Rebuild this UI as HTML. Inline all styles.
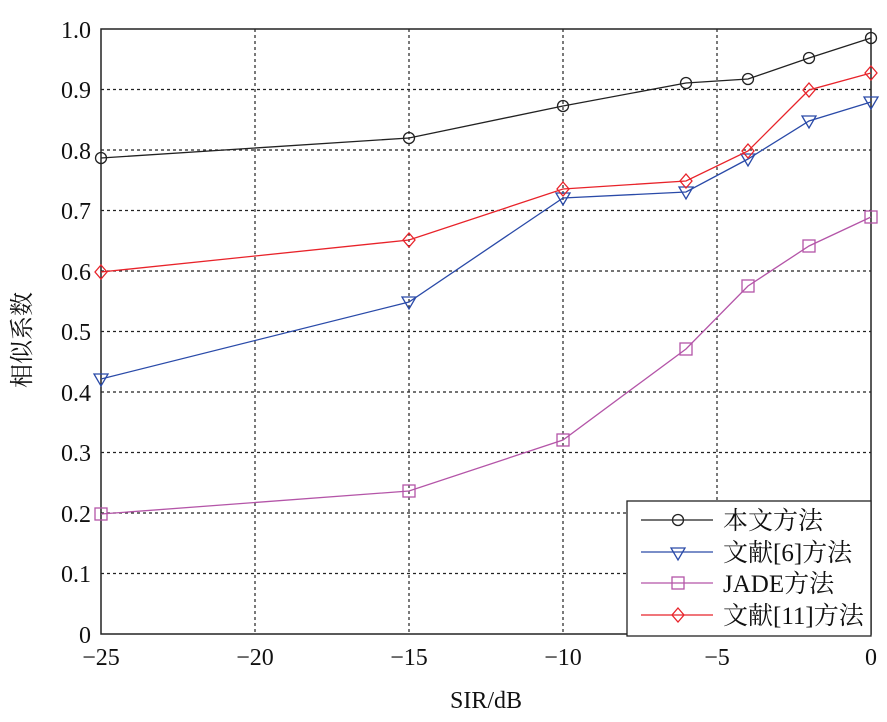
<!DOCTYPE html><html><head><meta charset="utf-8"><style>body{margin:0;background:#fff}</style></head><body>
<svg width="887" height="717" xmlns="http://www.w3.org/2000/svg" font-family="Liberation Serif, 'Noto Serif CJK SC', serif" font-size="24" fill="#111">
<g stroke="#222" stroke-width="1.2" stroke-dasharray="3,3">
<line x1="101" x2="871" y1="89.5" y2="89.5"/><line x1="101" x2="871" y1="150" y2="150"/><line x1="101" x2="871" y1="210.5" y2="210.5"/><line x1="101" x2="871" y1="271" y2="271"/><line x1="101" x2="871" y1="331.5" y2="331.5"/><line x1="101" x2="871" y1="392" y2="392"/><line x1="101" x2="871" y1="452.5" y2="452.5"/><line x1="101" x2="871" y1="513" y2="513"/><line x1="101" x2="871" y1="573.5" y2="573.5"/>
<line x1="255" x2="255" y1="29" y2="634"/><line x1="409" x2="409" y1="29" y2="634"/><line x1="563" x2="563" y1="29" y2="634"/><line x1="717" x2="717" y1="29" y2="634"/>
</g>
<rect x="101" y="29" width="770" height="605" fill="none" stroke="#222" stroke-width="1.5"/>
<g text-anchor="end">
<text x="91" y="38">1.0</text><text x="91" y="98">0.9</text><text x="91" y="159">0.8</text><text x="91" y="219">0.7</text><text x="91" y="280">0.6</text><text x="91" y="340">0.5</text><text x="91" y="401">0.4</text><text x="91" y="461">0.3</text><text x="91" y="522">0.2</text><text x="91" y="582">0.1</text><text x="91" y="643">0</text>
</g>
<g text-anchor="middle">
<text x="101" y="665">−25</text><text x="255" y="665">−20</text><text x="409" y="665">−15</text><text x="563" y="665">−10</text><text x="717" y="665">−5</text><text x="871" y="665">0</text>
<text x="486" y="708">SIR/dB</text>
<text transform="translate(30,340) rotate(-90)">相似系数</text>
</g>
<g fill="none" stroke-width="1.3">
<polyline stroke="#222" points="101,158 409,138 563,106 686,83 748,79 809,58 871,38"/>
<g stroke="#222"><circle cx="101" cy="158" r="5.5"/><circle cx="409" cy="138" r="5.5"/><circle cx="563" cy="106" r="5.5"/><circle cx="686" cy="83" r="5.5"/><circle cx="748" cy="79" r="5.5"/><circle cx="809" cy="58" r="5.5"/><circle cx="871" cy="38" r="5.5"/></g>
<polyline stroke="#2a4aa8" points="101,379 409,302 563,198 686,192 748,159 809,121 871,102"/>
<g stroke="#2a4aa8">
<path d="M94,374h14l-7,12z"/><path d="M402,297h14l-7,12z"/><path d="M556,193h14l-7,12z"/><path d="M679,187h14l-7,12z"/><path d="M741,154h14l-7,12z"/><path d="M802,116h14l-7,12z"/><path d="M864,97h14l-7,12z"/></g>
<polyline stroke="#b455a8" points="101,514 409,491 563,440 686,349 748,286 809,246 871,217"/>
<g stroke="#b455a8"><rect x="95" y="508" width="12" height="12"/><rect x="403" y="485" width="12" height="12"/><rect x="557" y="434" width="12" height="12"/><rect x="680" y="343" width="12" height="12"/><rect x="742" y="280" width="12" height="12"/><rect x="803" y="240" width="12" height="12"/><rect x="865" y="211" width="12" height="12"/></g>
<polyline stroke="#e8232a" points="101,272 409,240 563,189 686,181 748,151 809,90 871,73"/>
<g stroke="#e8232a">
<path d="M101,265l6,7-6,7-6-7z"/><path d="M409,233l6,7-6,7-6-7z"/><path d="M563,182l6,7-6,7-6-7z"/><path d="M686,174l6,7-6,7-6-7z"/><path d="M748,144l6,7-6,7-6-7z"/><path d="M809,83l6,7-6,7-6-7z"/><path d="M871,66l6,7-6,7-6-7z"/></g>
</g>
<rect x="627" y="501" width="244" height="135" fill="#fff" stroke="#222" stroke-width="1.3"/>
<g fill="none" stroke-width="1.3">
<line x1="641" x2="713" y1="520" y2="520" stroke="#222"/><circle cx="678" cy="520" r="5.5" stroke="#222"/>
<line x1="641" x2="713" y1="552" y2="552" stroke="#2a4aa8"/><path d="M671,548h14l-7,12z" stroke="#2a4aa8"/>
<line x1="641" x2="713" y1="583" y2="583" stroke="#b455a8"/><rect x="672" y="577" width="12" height="12" stroke="#b455a8"/>
<line x1="641" x2="713" y1="615" y2="615" stroke="#e8232a"/><path d="M678,608l6,7-6,7-6-7z" stroke="#e8232a"/>
</g>
<g font-size="25"><text x="723" y="529">本文方法</text><text x="723" y="561">文献[6]方法</text><text x="723" y="592">JADE方法</text><text x="723" y="624">文献[11]方法</text></g>
</svg></body></html>
